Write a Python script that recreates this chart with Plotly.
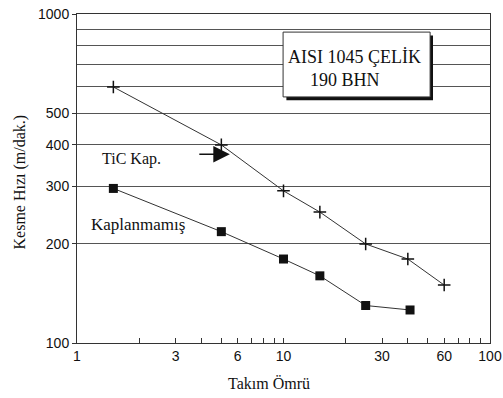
import plotly.graph_objects as go

# Data
tic_life = [1.5, 5, 10, 15, 25, 40, 60]
tic_speed = [600, 400, 290, 250, 200, 180, 150]
unc_life = [1.5, 5, 10, 15, 25, 41]
unc_speed = [295, 218, 180, 160, 130, 126]

x_tickvals = [1, 3, 6, 10, 30, 60, 100]
x_ticktext = ["1", "3", "6", "10", "30", "60", "100"]
x_minor = [2, 4, 5, 7, 8, 9, 20, 40, 50, 70, 80, 90]
y_tickvals = [100, 200, 300, 400, 500, 1000]
y_ticktext = ["100", "200", "300", "400", "500", "1000"]
y_minor = [600, 700, 800, 900]

LINE = "#333333"
GRID = "#555555"
SERIF = "Liberation Serif"
SANS = "Liberation Sans"

fig = go.Figure()
fig.add_trace(go.Scatter(
    x=tic_life, y=tic_speed, mode="lines+markers", name="TiC Kap.",
    line=dict(color=LINE, width=1),
    marker=dict(symbol="cross-thin", size=9, line=dict(color="#111", width=1.5), color="#111"),
))
fig.add_trace(go.Scatter(
    x=unc_life, y=unc_speed, mode="lines+markers", name="Kaplanmamış",
    line=dict(color=LINE, width=1),
    marker=dict(symbol="square", size=9, color="#111"),
))

fig.update_layout(
    width=503, height=398,
    margin=dict(l=77, r=13, t=14, b=55, autoexpand=False),
    paper_bgcolor="white", plot_bgcolor="white",
    showlegend=False,
    font=dict(family=SERIF, color="#111"),
    xaxis=dict(
        type="log", range=[0, 2], automargin=False,
        tickvals=x_tickvals, ticktext=x_ticktext,
        ticks="inside", ticklen=5, tickcolor=LINE,
        showgrid=False, zeroline=False,
        showline=True, linecolor=LINE, linewidth=1, mirror=True,
        tickfont=dict(family=SANS, size=14, color="#111"),
        minor=dict(tickvals=x_minor, ticks="inside", ticklen=5, tickcolor=LINE, showgrid=False),
    ),
    yaxis=dict(
        type="log", range=[2, 3], automargin=False,
        tickvals=y_tickvals, ticktext=y_ticktext,
        ticks="outside", ticklen=4, tickcolor=LINE,
        showgrid=True, gridcolor=GRID, gridwidth=1, zeroline=False,
        showline=True, linecolor=LINE, linewidth=1, mirror=True,
        tickfont=dict(family=SANS, size=14, color="#111"),
        minor=dict(tickvals=y_minor, ticks="", showgrid=True, gridcolor=GRID, gridwidth=1),
    ),
)

def label(text, x, y, size=16, **kw):
    fig.add_annotation(text=text, xref="paper", yref="paper", x=x, y=y,
                       xanchor="center", yanchor="middle",
                       showarrow=False, font=dict(family=SERIF, size=size, color="#111"), **kw)

# Axis titles
label("Takım Ömrü", 0.465, -0.1216, size=16)
label("Kesme Hızı (m/dak.)", -0.138, 0.488, size=16, textangle=-90)

# Title box with shadow
fig.add_shape(type="rect", xref="paper", yref="paper",
              x0=0.507, x1=0.862, y0=0.738, y1=0.935,
              fillcolor="#111", line=dict(width=0), layer="above")
fig.add_shape(type="rect", xref="paper", yref="paper",
              x0=0.499, x1=0.855, y0=0.748, y1=0.945,
              fillcolor="white", line=dict(color="#333", width=1), layer="above")
label("AISI 1045 ÇELİK", 0.671, 0.869, size=18)
label("190 BHN", 0.649, 0.799, size=18)

# Series labels
label("TiC Kap.", 0.132, 0.559, size=16)
fig.add_annotation(text="", xref="paper", yref="paper", x=0.370, y=0.574,
                   ax=-32, ay=0, showarrow=True, arrowhead=2, arrowsize=2.2,
                   arrowwidth=1.5, arrowcolor="#111")
label("Kaplanmamış", 0.1465, 0.359, size=17)

fig.write_html("out.html")
